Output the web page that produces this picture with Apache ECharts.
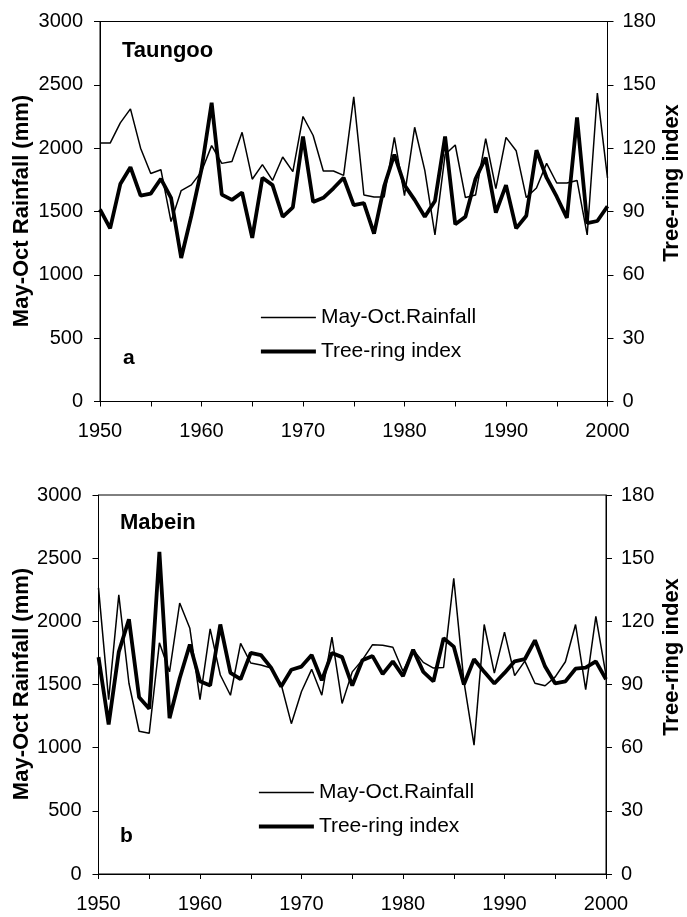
<!DOCTYPE html>
<html>
<head>
<meta charset="utf-8">
<script src="https://cdn.jsdelivr.net/npm/echarts@6/dist/echarts.min.js"></script>
<style>
  html, body { margin: 0; padding: 0; background: #fff; }
  #chart { width: 687px; height: 917px; }
</style>
</head>
<body>
<div id="chart"></div>
<script>
// years shared by both panels
const years = [];
for (let y = 1950; y <= 2000; y++) years.push(y);

// panel a - Taungoo
const taungooRain = [
  2040, 2040, 2200, 2310, 2000, 1800, 1830, 1420, 1665, 1710,
  1815, 2020, 1880, 1895, 2125, 1755, 1870, 1745, 1930, 1815,
  2250, 2100, 1820, 1820, 1785, 2405, 1630, 1615, 1615, 2085,
  1625, 2165, 1825, 1315, 1950, 2025, 1610, 1630, 2075, 1680,
  2085, 1980, 1610, 1685, 1880, 1725, 1725, 1745, 1315, 2435,
  1765
]
const taungooRing = [
  91, 82, 103, 111, 97.5, 98.5, 105.5, 96.5, 68, 88,
  110, 141.5, 98, 95.5, 99, 77.5, 106, 102.5, 87.5, 92,
  125.5, 94.5, 96.5, 101, 106, 93, 94, 79.5, 102, 117,
  102.5, 95.5, 87.5, 95, 125.5, 84, 87.5, 105.5, 115.5, 89.5,
  102.5, 82, 88, 119, 106, 97, 87, 134.5, 84.5, 85.5,
  92.5
]

// panel b - Mabein
const mabeinRain = [
  2265, 1380, 2210, 1510, 1130, 1115, 1830, 1600, 2145, 1945,
  1380, 1940, 1575, 1415, 1825, 1670, 1655, 1630, 1500, 1190,
  1445, 1620, 1415, 1875, 1350, 1600, 1695, 1815, 1810, 1795,
  1605, 1775, 1675, 1630, 1635, 2340, 1525, 1020, 1975, 1590,
  1915, 1570, 1685, 1510, 1490, 1560, 1680, 1975, 1460, 2040,
  1575
]
const mabeinRing = [
  103, 71, 105.5, 121, 84, 78.5, 153, 74, 93, 109,
  91.5, 89.5, 118.5, 95.5, 92.5, 105, 104, 98, 89, 97,
  98.5, 104, 92, 105, 103, 89.5, 101.5, 103.5, 95, 101,
  94, 106.5, 96, 91.5, 112, 108, 90, 102, 96, 90.5,
  95.5, 101, 102, 111, 98.5, 90.5, 91.5, 97.5, 98, 101,
  92.5
]

const rainName = 'May-Oct.Rainfall'
const ringName = 'Tree-ring index'

const pairs = arr => years.map((y, i) => [y, arr[i]])

const font = '"Liberation Sans", Arial, sans-serif'
const plain = v => String(v)

const xAxisBase = (gridIndex) => ({
  type: 'value',
  gridIndex,
  min: 1950,
  max: 2000,
  interval: 5,
  axisLine: { lineStyle: { color: '#000', width: 1 } },
  axisTick: { length: 5, lineStyle: { color: '#000' } },
  axisLabel: {
    color: '#000',
    fontFamily: font,
    fontSize: 20,
    margin: 20,
    formatter: v => (v % 10 === 0 ? String(v) : '')
  },
  splitLine: { show: false }
})

const leftAxis = (gridIndex) => ({
  type: 'value',
  gridIndex,
  min: 0,
  max: 3000,
  interval: 500,
  position: 'left',
  axisLine: { show: true, lineStyle: { color: '#000', width: 1 } },
  axisTick: { show: true, length: 6, lineStyle: { color: '#000' } },
  axisLabel: { color: '#000', fontFamily: font, fontSize: 20, margin: 17, formatter: plain },
  splitLine: { show: false }
})

const rightAxis = (gridIndex) => ({
  type: 'value',
  gridIndex,
  min: 0,
  max: 180,
  interval: 30,
  position: 'right',
  axisLine: { show: true, lineStyle: { color: '#000', width: 1 } },
  axisTick: { show: true, length: 6, lineStyle: { color: '#000' } },
  axisLabel: { color: '#000', fontFamily: font, fontSize: 20, margin: 15, formatter: plain },
  splitLine: { show: false }
})

const thinW = 1.5
const thickW = 3.8
const thin = { color: '#000', width: thinW }
const thick = { color: '#000', width: thickW }

// legend: plain line swatch, no marker in the middle
const legendBase = (left, top) => ({
  orient: 'vertical',
  left,
  top,
  itemWidth: 55,
  itemHeight: 21,
  itemGap: 13,
  selectedMode: false,
  itemStyle: { color: 'rgba(0,0,0,0)', opacity: 0, borderWidth: 0 },
  textStyle: { color: '#000', fontFamily: font, fontSize: 21 },
  data: [
    { name: rainName, lineStyle: { width: thinW, color: '#000' } },
    { name: ringName, lineStyle: { width: thickW, color: '#000' } }
  ]
})

const textEl = (text, x, y, size, rotate) => ({
  type: 'text',
  x,
  y,
  rotation: rotate ? Math.PI / 2 : 0,
  style: {
    text,
    fill: '#000',
    font: 'bold ' + size + 'px ' + font,
    textAlign: rotate ? 'center' : 'left',
    textVerticalAlign: 'middle'
  }
})

const chart = echarts.init(document.getElementById('chart'))

chart.setOption({
  animation: false,
  backgroundColor: '#fff',
  grid: [
    { left: 100, top: 21.5, width: 507.5, height: 380, show: true, borderColor: '#000', borderWidth: 1 },
    { left: 98.5, top: 495, width: 507.5, height: 379, show: true, borderColor: '#000', borderWidth: 1 }
  ],
  xAxis: [xAxisBase(0), xAxisBase(1)],
  yAxis: [leftAxis(0), rightAxis(0), leftAxis(1), rightAxis(1)],
  legend: [legendBase(254, 302), legendBase(252, 777)],
  series: [
    { name: rainName, type: 'line', xAxisIndex: 0, yAxisIndex: 0, symbol: 'none', lineStyle: thin, itemStyle: { color: '#000' }, data: pairs(taungooRain) },
    { name: ringName, type: 'line', xAxisIndex: 0, yAxisIndex: 1, symbol: 'none', lineStyle: thick, itemStyle: { color: '#000' }, data: pairs(taungooRing) },
    { name: rainName, type: 'line', xAxisIndex: 1, yAxisIndex: 2, symbol: 'none', lineStyle: thin, itemStyle: { color: '#000' }, data: pairs(mabeinRain) },
    { name: ringName, type: 'line', xAxisIndex: 1, yAxisIndex: 3, symbol: 'none', lineStyle: thick, itemStyle: { color: '#000' }, data: pairs(mabeinRing) }
  ],
  graphic: [
    textEl('Taungoo', 122, 51, 22),
    textEl('a', 123, 358, 21),
    textEl('Mabein', 120, 523, 22),
    textEl('b', 120, 836, 21),
    textEl('May-Oct Rainfall (mm)', 22, 211, 22, true),
    textEl('May-Oct Rainfall (mm)', 22, 684, 22, true),
    textEl('Tree-ring index', 672, 183, 22, true),
    textEl('Tree-ring index', 672, 657, 22, true)
  ]
})
</script>
</body>
</html>
